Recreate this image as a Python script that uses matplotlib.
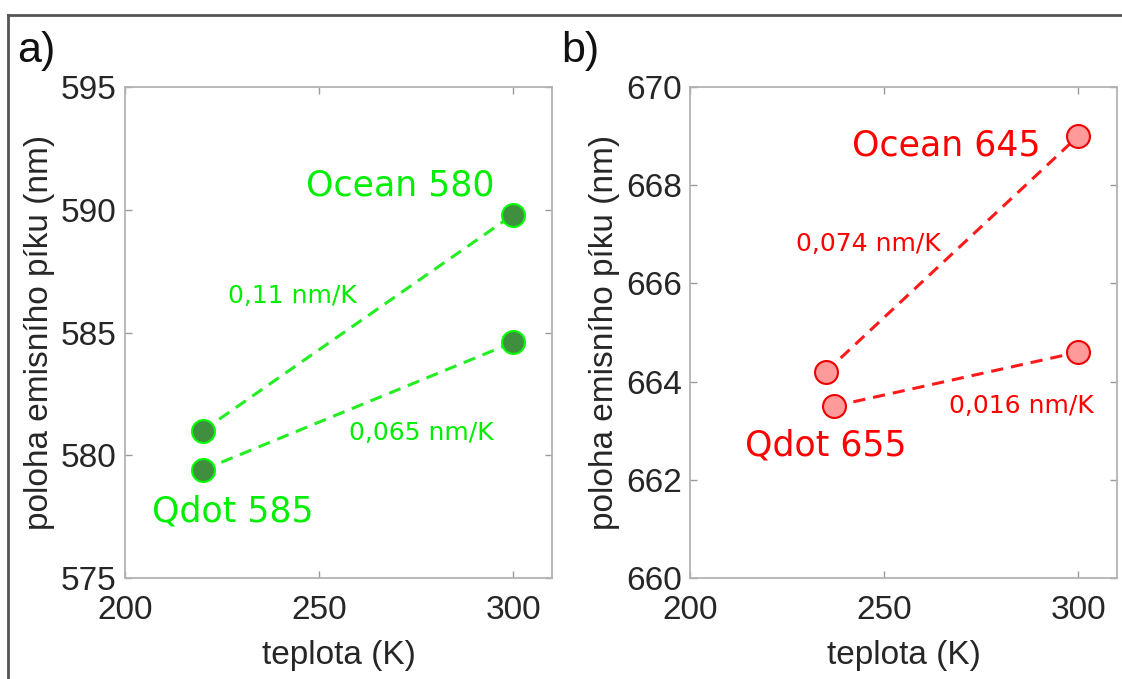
import matplotlib.pyplot as plt
from matplotlib.lines import Line2D

# teploty a polohy piku
temp_a_ocean = [220, 300]
peak_a_ocean = [581.0, 589.8]
temp_a_qdot = [220, 300]
peak_a_qdot = [579.4, 584.6]

temp_b_ocean = [235, 300]
peak_b_ocean = [664.2, 669.0]
temp_b_qdot = [237, 300]
peak_b_qdot = [663.5, 664.6]

yticks_a = [575, 580, 585, 590, 595]
yticks_b = [660, 662, 664, 666, 668, 670]
xticks = [200, 250, 300]

plt.rcParams['font.family'] = ['Liberation Sans', 'DejaVu Sans']

fig = plt.figure(figsize=(11.22, 6.79), dpi=100)
ax1 = fig.add_axes([0.1114, 0.1487, 0.3806, 0.7232])
ax2 = fig.add_axes([0.615, 0.1487, 0.3806, 0.7232])

def style(ax, yticks):
    ax.set_xlim(200, 310)
    ax.set_ylim(yticks[0], yticks[-1])
    ax.set_xticks(xticks)
    ax.set_yticks(yticks)
    ax.tick_params(direction='in', top=True, right=True, length=5, width=1,
                   color='#999999', labelsize=24, labelcolor='#262626')
    ax.tick_params(axis='y', pad=6)
    ax.tick_params(axis='x', pad=12)
    for s in ax.spines.values():
        s.set_color('#b3b3b3')
        s.set_linewidth(1.3)
    ax.set_xlabel('teplota (K)', fontsize=24, color='#262626', labelpad=10)
    ax.set_ylabel('poloha emisního píku (nm)', fontsize=24, color='#262626', labelpad=4)

dash = (0, (4, 2.6))
ann = dict(family='DejaVu Sans')

# panel a
g_line = '#22ee22'
ax1.plot(temp_a_ocean, peak_a_ocean, ls=dash, lw=2.2, color=g_line, zorder=2)
ax1.plot(temp_a_qdot, peak_a_qdot, ls=dash, lw=2.2, color=g_line, zorder=2)
for t, p in [(temp_a_ocean, peak_a_ocean), (temp_a_qdot, peak_a_qdot)]:
    ax1.plot(t, p, 'o', ms=16.5, mfc='#3f8f3f', mec='#00ff00', mew=1.5, zorder=3)
style(ax1, yticks_a)
ax1.text(246.5, 591.0, 'Ocean 580', color='#00ee00', fontsize=25, va='center', **ann)
ax1.text(226.6, 586.5, '0,11 nm/K', color='#00ee00', fontsize=18, va='center', **ann)
ax1.text(257.6, 580.9, '0,065 nm/K', color='#00ee00', fontsize=18, va='center', **ann)
ax1.text(207.0, 577.7, 'Qdot 585', color='#00ee00', fontsize=25, va='center', **ann)

# panel b
r_line = '#ff1a1a'
ax2.plot(temp_b_ocean, peak_b_ocean, ls=dash, lw=2.2, color=r_line, zorder=2)
ax2.plot(temp_b_qdot, peak_b_qdot, ls=dash, lw=2.2, color=r_line, zorder=2)
for t, p in [(temp_b_ocean, peak_b_ocean), (temp_b_qdot, peak_b_qdot)]:
    ax2.plot(t, p, 'o', ms=16.5, mfc='#ff9a9a', mec='#ee0000', mew=1.5, zorder=3)
style(ax2, yticks_b)
ax2.text(241.6, 668.8, 'Ocean 645', color='#ff0000', fontsize=25, va='center', **ann)
ax2.text(227.2, 666.8, '0,074 nm/K', color='#ff0000', fontsize=18, va='center', **ann)
ax2.text(266.8, 663.5, '0,016 nm/K', color='#ff0000', fontsize=18, va='center', **ann)
ax2.text(214.1, 662.7, 'Qdot 655', color='#ff0000', fontsize=25, va='center', **ann)

# popisky panelu
fig.text(0.015, 0.925, 'a)', fontsize=31, color='#111111', va='center')
fig.text(0.500, 0.925, 'b)', fontsize=31, color='#111111', va='center')

# ramecek
fig.add_artist(Line2D([0.0075, 1.0], [0.978, 0.978], color='#555555', lw=2))
fig.add_artist(Line2D([0.0075, 0.0075], [0.0, 0.978], color='#555555', lw=2))

fig.savefig('out.png', dpi=100)
